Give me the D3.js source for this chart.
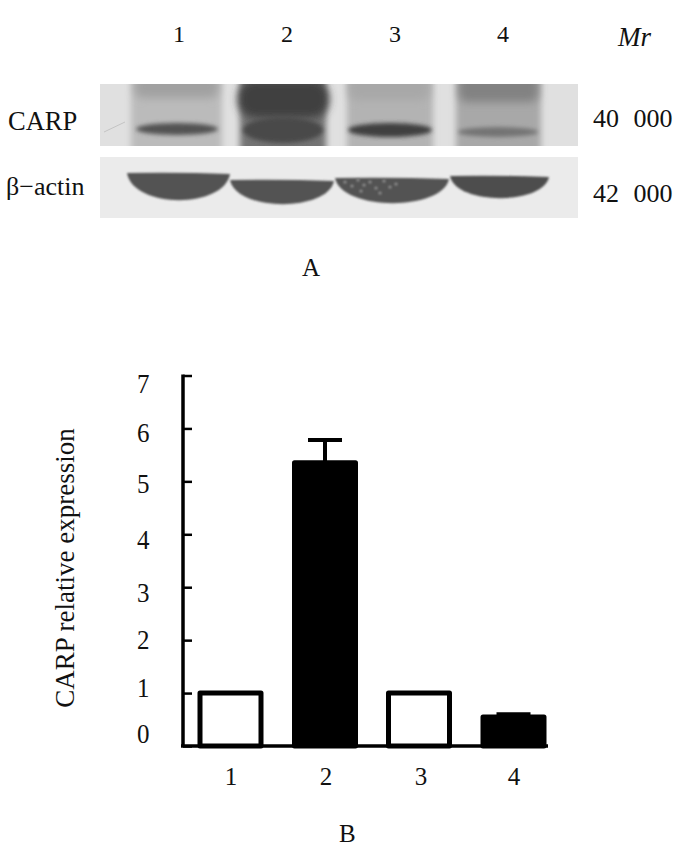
<!DOCTYPE html>
<html><head><meta charset="utf-8">
<script src="https://cdn.jsdelivr.net/npm/d3@7"></script>
<style>html,body{margin:0;background:#fff}svg{display:block}text{font-family:"Liberation Serif",serif;fill:#111}</style>
</head><body><svg id="c" width="700" height="849"></svg>
<script>
const lanes=["1","2","3","4"];
const values=[1,5.35,1,0.55];
const errors=[0,0.43,0,0.05];
const barFill=["#fff","#000","#fff","#000"];
const yTicks=[0,1,2,3,4,5,6,7];
const carpSmear=[0.24,0.62,0.28,0.34];
const carpUpper=[0.38,0.90,0.34,0.54];
const carpLower=[0.80,0.84,0.90,0.62];
const actin=[0.80,0.80,0.80,0.82];
const blotLabels=[["CARP","40 000"],["β−actin","42 000"]];
const laneTextX=[179,287,395,503];
const barCenters=[230.5,325,419,513.5];
const barLabelX=[231,326,421,514];
const tickBaselines=[743,697,649,602,549,493,442,393];

const svg=d3.select("#c");
const defs=svg.append("defs");
const blur=(id,s)=>defs.append("filter").attr("id",id).attr("x","-30%").attr("y","-80%").attr("width","160%").attr("height","260%").append("feGaussianBlur").attr("stdDeviation",s);
blur("b4",4);blur("b3",3);blur("b2",2.2);blur("b1",1.1);
defs.append("clipPath").attr("id","p1").append("rect").attr("x",100).attr("y",84).attr("width",478).attr("height",62);
defs.append("clipPath").attr("id","p2").append("rect").attr("x",100).attr("y",157).attr("width",478).attr("height",61);

// blot
const grey=d3.scaleLinear().domain([0,1]).range(["#e8e8e8","#2c2c2c"]);
svg.append("rect").attr("x",100).attr("y",84).attr("width",478).attr("height",62).attr("fill","#e0e0e0");
svg.append("rect").attr("x",100).attr("y",157).attr("width",478).attr("height",61).attr("fill","#ebebeb");
const gp=svg.append("g").attr("clip-path","url(#p1)");
const smearX=[[131,222],[240,326],[347,433],[456,541]];
const upperBox=[[135,218,76,98],[238,329,80,118],[349,429,76,100],[459,538,76,102]];
const lowerEll=[[177,129,41,6],[283,130,40,13],[390,130,42,7],[498,132,40,5]];
gp.append("path").attr("d","M104,132L125,122").attr("stroke","#c4c4c4").attr("fill","none");
gp.selectAll(".smear").data(lanes).join("rect").attr("filter","url(#b3)")
  .attr("x",(d,i)=>smearX[i][0]).attr("width",(d,i)=>smearX[i][1]-smearX[i][0]).attr("y",74).attr("height",85)
  .attr("fill",(d,i)=>grey(carpSmear[i]));
gp.selectAll(".up").data(lanes).join("rect").attr("filter","url(#b4)")
  .attr("x",(d,i)=>upperBox[i][0]).attr("width",(d,i)=>upperBox[i][1]-upperBox[i][0])
  .attr("y",(d,i)=>upperBox[i][2]).attr("height",(d,i)=>upperBox[i][3]-upperBox[i][2]).attr("rx",(d,i)=>i===1?18:8)
  .attr("fill",(d,i)=>grey(carpUpper[i]));
gp.selectAll(".low").data(lanes).join("ellipse").attr("filter","url(#b2)")
  .attr("cx",(d,i)=>lowerEll[i][0]).attr("cy",(d,i)=>lowerEll[i][1]).attr("rx",(d,i)=>lowerEll[i][2]).attr("ry",(d,i)=>lowerEll[i][3])
  .attr("fill",(d,i)=>grey(carpLower[i]));

const actinX=[[127,230],[230,334],[335,449],[450,549]];
const actinTop=[171,178,176,174];
const actinBottom=[200,204,203,198];
const ga=svg.append("g").attr("clip-path","url(#p2)");
ga.selectAll("path").data(lanes).join("path").attr("filter","url(#b1)")
  .attr("d",(d,i)=>{const [a,b]=actinX[i],t=actinTop[i],o=actinBottom[i],w=b-a;
    const c=t+2+(o-t-2)/0.75;
    const p=d3.path();
    p.moveTo(a,t+2);
    p.quadraticCurveTo(a+w*.5,t+1,b,t+3);
    p.bezierCurveTo(b-w*.06,c,a+w*.06,c,a,t+2);
    p.closePath();
    return p.toString();})
  .attr("fill",(d,i)=>grey(actin[i]));
const specks=[[345,182],[352,186],[358,180],[364,185],[370,182],[376,188],[384,181],[390,187],[361,191],[380,193],[396,184]];
ga.selectAll("circle").data(specks).join("circle").attr("filter","url(#b1)")
  .attr("cx",d=>d[0]).attr("cy",d=>d[1]).attr("r",1.6).attr("fill","#909090");

const txt=(x,y,s,size)=>svg.append("text").attr("x",x).attr("y",y).attr("font-size",size).text(s);
svg.append("g").selectAll("text").data(lanes).join("text").attr("x",(d,i)=>laneTextX[i]).attr("y",42).attr("text-anchor","middle").attr("font-size",24).text(d=>d);
txt(618,46,"Mr",27).attr("font-style","italic");
txt(8,130,blotLabels[0][0],26.5);
txt(6,195,blotLabels[1][0],26);
txt(593,127,blotLabels[0][1],26).style("word-spacing","8px");
txt(593,202,blotLabels[1][1],26).style("word-spacing","8px");
txt(302,276,"A",25);
txt(339,842,"B",25);

// bars
const y=d3.scaleLinear().domain([0,7]).range([746,375.5]);
const bw=61;
const g=svg.append("g");
g.selectAll(".err").data(lanes).join("path").attr("class","err")
  .attr("d",(d,i)=>errors[i]?`M${barCenters[i]},${y(values[i])}V${y(values[i]+errors[i])}M${barCenters[i]-17},${y(values[i]+errors[i])}H${barCenters[i]+17}`:"")
  .attr("stroke","#000").attr("stroke-width",4).attr("fill","none");
g.selectAll(".bar").data(lanes).join("rect").attr("class","bar")
  .attr("x",(d,i)=>barCenters[i]-bw/2).attr("width",bw)
  .attr("y",(d,i)=>y(values[i])).attr("height",(d,i)=>y(0)-y(values[i]))
  .attr("fill",(d,i)=>barFill[i]).attr("stroke","#000").attr("stroke-width",5).attr("stroke-linejoin","round");
const ax=svg.append("g").attr("transform","translate(183,0)").call(d3.axisLeft(y).tickValues(yTicks).tickSize(-9).tickFormat(""));
ax.selectAll("path").remove();
ax.selectAll("line").attr("stroke","#000").attr("stroke-width",2.5);
svg.append("line").attr("x1",183).attr("x2",183).attr("y1",y(7)-1).attr("y2",y(0)+1).attr("stroke","#000").attr("stroke-width",3.5);
svg.append("line").attr("x1",181).attr("x2",548).attr("y1",y(0)).attr("y2",y(0)).attr("stroke","#000").attr("stroke-width",3.5);
svg.append("g").selectAll("text").data(yTicks).join("text").attr("x",137).attr("y",(d,i)=>tickBaselines[i])
  .attr("textLength",12.5).attr("lengthAdjust","spacingAndGlyphs").attr("font-size",27).text(d=>d);
svg.append("g").selectAll("text").data(lanes).join("text").attr("x",(d,i)=>barLabelX[i]).attr("y",785).attr("text-anchor","middle").attr("font-size",25).text(d=>d);
svg.append("text").attr("transform","translate(74,568) rotate(-90)").attr("text-anchor","middle").attr("font-size",27).text("CARP relative expression");
</script></body></html>
